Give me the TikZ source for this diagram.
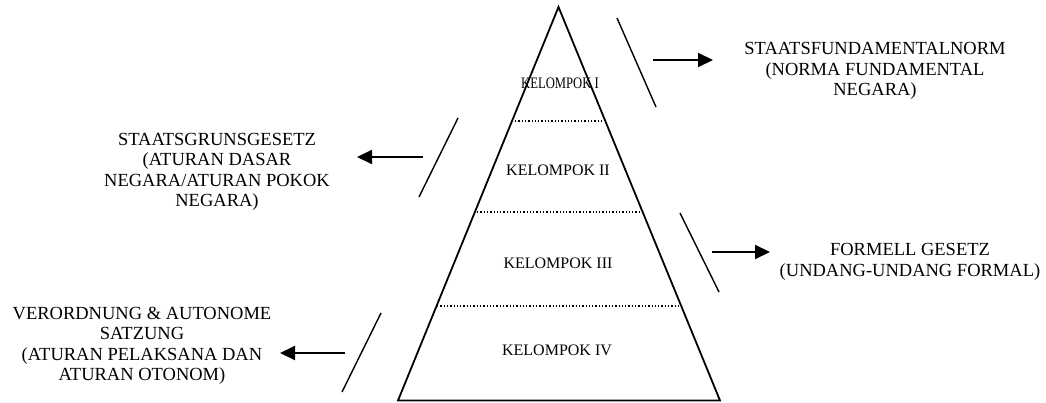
\documentclass[tikz,border=0pt]{standalone}
\usepackage{fontspec}
\usepackage{graphicx}
\setmainfont{Liberation Serif}
\usetikzlibrary{arrows.meta}
\tikzset{
  side/.style={align=center, inner sep=0pt, font=\fontsize{18.5}{20.5}\selectfont},
  grp/.style={inner sep=0pt, font=\fontsize{16}{18}\selectfont},
  pyr/.style={line width=1.8pt, line join=miter},
  sep/.style={line width=1.3pt, dotted},
  slash/.style={line width=1.4pt},
  pointer/.style={line width=2pt, -{Triangle[length=15pt,width=14pt]}}
}
\begin{document}
\begin{tikzpicture}[x=1pt,y=-1pt]
\useasboundingbox (0,0) rectangle (1046,403);
% pyramid
\coordinate (apex) at (558.5,7);
\coordinate (bl) at (398,400.5);
\coordinate (br) at (720,400.5);
\draw[pyr] (apex) -- (br) -- (bl) -- cycle;
% separators
\coordinate (s1l) at (515,121); \coordinate (s1r) at (603,121);
\coordinate (s2l) at (477,212); \coordinate (s2r) at (641,212);
\coordinate (s3l) at (437,306); \coordinate (s3r) at (678,306);
\draw[sep] (s1l) -- (s1r);
\draw[sep] (s2l) -- (s2r);
\draw[sep] (s3l) -- (s3r);
% group labels
\node[grp] (k1) at (560,83) {\scalebox{0.79}[1]{KELOMPOK I}};
\node[grp] (k2) at (558,170) {KELOMPOK II};
\node[grp] (k3) at (558,263) {KELOMPOK III};
\node[grp] (k4) at (557,350) {KELOMPOK IV};
% side labels
\node[side] (t1) at (875,71) {STAATSFUNDAMENTALNORM\\(NORMA FUNDAMENTAL\\NEGARA)};
\node[side] (t2) at (217,172) {STAATSGRUNSGESETZ\\(ATURAN DASAR\\NEGARA/ATURAN POKOK\\NEGARA)};
\node[side] (t3) at (910,262) {FORMELL GESETZ\\(UNDANG-UNDANG FORMAL)};
\node[side] (t4) at (142,346) {VERORDNUNG \& AUTONOME\\SATZUNG\\(ATURAN PELAKSANA DAN\\ATURAN OTONOM)};
% slashes
\coordinate (a1) at (617,18); \coordinate (b1) at (656,107);
\coordinate (a2) at (458,118); \coordinate (b2) at (419,197);
\coordinate (a3) at (680,213); \coordinate (b3) at (719,292);
\coordinate (a4) at (381,313); \coordinate (b4) at (342,392);
\draw[slash] (a1) -- (b1);
\draw[slash] (a2) -- (b2);
\draw[slash] (a3) -- (b3);
\draw[slash] (a4) -- (b4);
% arrows
\coordinate (p1s) at (653,60);  \coordinate (p1e) at (713,60);
\coordinate (p2s) at (423,157); \coordinate (p2e) at (357,157);
\coordinate (p3s) at (712,252); \coordinate (p3e) at (770,252);
\coordinate (p4s) at (345,353); \coordinate (p4e) at (280,353);
\draw[pointer] (p1s) -- (p1e);
\draw[pointer] (p2s) -- (p2e);
\draw[pointer] (p3s) -- (p3e);
\draw[pointer] (p4s) -- (p4e);
\end{tikzpicture}
\end{document}
